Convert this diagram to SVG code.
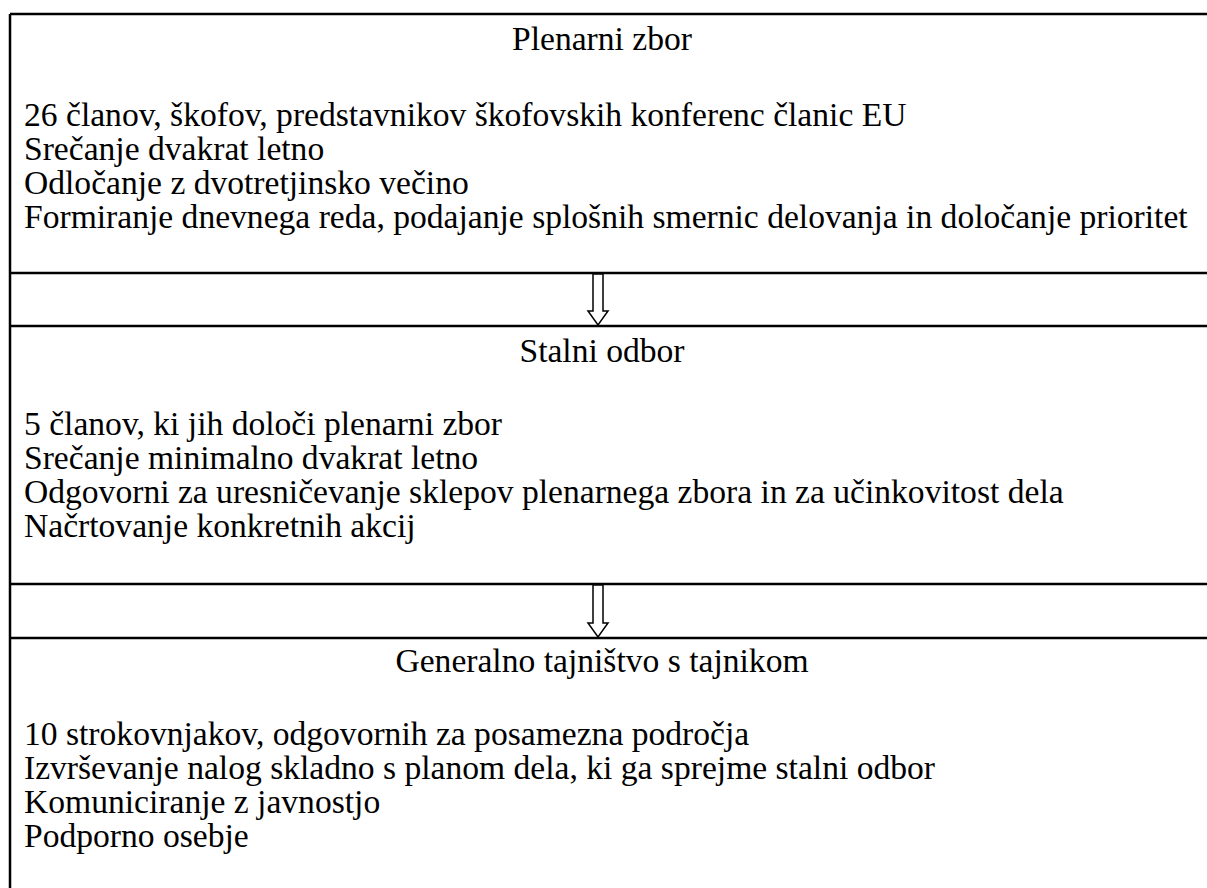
<svg xmlns="http://www.w3.org/2000/svg" width="1207" height="888" viewBox="0 0 1207 888">
<style>
.t{font-family:"Liberation Serif","Times New Roman",serif;font-size:33.6px;fill:#000}
.c{text-anchor:middle}
.ln{stroke:#000;stroke-width:2.5;fill:none}
.ar{stroke:#000;stroke-width:1.5;fill:#fff;stroke-linejoin:miter}
</style>
<rect width="1207" height="888" fill="#fff"/>
<g id="frame">
<line class="ln" x1="10" y1="14" x2="1207" y2="14"/>
<line class="ln" x1="10" y1="14" x2="10" y2="888"/>
<line class="ln" x1="10" y1="273" x2="1207" y2="273"/>
<line class="ln" x1="10" y1="326" x2="1207" y2="326"/>
<line class="ln" x1="10" y1="584" x2="1207" y2="584"/>
<line class="ln" x1="10" y1="638" x2="1207" y2="638"/>
</g>
<g id="n1">
<text class="t c" x="602" y="50">Plenarni zbor</text>
<text class="t" x="24" y="126">26 članov, škofov, predstavnikov škofovskih konferenc članic EU</text>
<text class="t" x="24" y="160">Srečanje dvakrat letno</text>
<text class="t" x="24" y="194">Odločanje z dvotretjinsko večino</text>
<text class="t" x="24" y="228">Formiranje dnevnega reda, podajanje splošnih smernic delovanja in določanje prioritet</text>
</g>
<g id="n2">
<text class="t c" x="602" y="362">Stalni odbor</text>
<text class="t" x="24" y="435">5 članov, ki jih določi plenarni zbor</text>
<text class="t" x="24" y="469">Srečanje minimalno dvakrat letno</text>
<text class="t" x="24" y="503">Odgovorni za uresničevanje sklepov plenarnega zbora in za učinkovitost dela</text>
<text class="t" x="24" y="537">Načrtovanje konkretnih akcij</text>
</g>
<g id="n3">
<text class="t c" x="602" y="672">Generalno tajništvo s tajnikom</text>
<text class="t" x="24" y="745">10 strokovnjakov, odgovornih za posamezna področja</text>
<text class="t" x="24" y="779">Izvrševanje nalog skladno s planom dela, ki ga sprejme stalni odbor</text>
<text class="t" x="24" y="813">Komuniciranje z javnostjo</text>
<text class="t" x="24" y="847">Podporno osebje</text>
</g>
<g id="connectors">
<polygon class="ar" points="593,274 603,274 603,311 608,311 598,325 588,311 593,311"/>
<polygon class="ar" points="593,585 603,585 603,623 608,623 598,637 588,623 593,623"/>
</g>
</svg>
